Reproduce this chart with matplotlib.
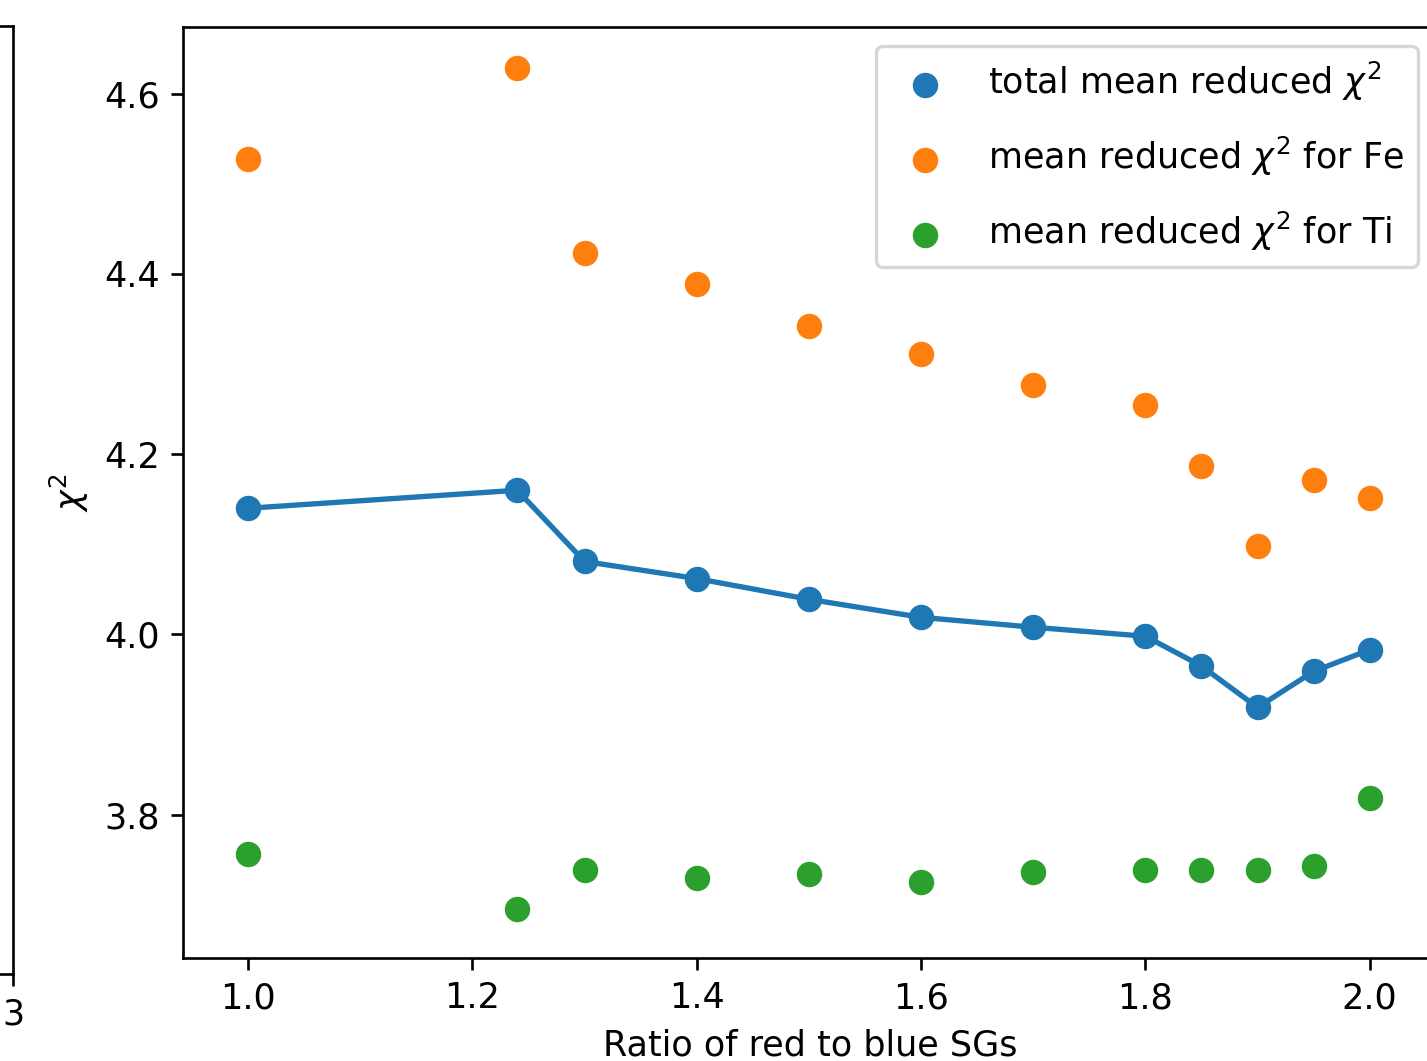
import matplotlib
matplotlib.use('Agg')
import matplotlib.pyplot as plt

# ratio of red to blue SGs
ratio = [1.0, 1.24, 1.3, 1.4, 1.5, 1.6, 1.7, 1.8, 1.85, 1.9, 1.95, 2.0]

# mean reduced chi^2 values
chi2_total = [4.140, 4.160, 4.081, 4.062, 4.039, 4.019, 4.008, 3.998, 3.965, 3.919, 3.959, 3.983]
chi2_fe = [4.527, 4.628, 4.423, 4.389, 4.342, 4.311, 4.277, 4.255, 4.187, 4.098, 4.171, 4.151]
chi2_ti = [3.756, 3.695, 3.739, 3.730, 3.734, 3.725, 3.736, 3.739, 3.739, 3.739, 3.743, 3.818]

plt.rcParams['font.size'] = 10.5

W, H = 1427, 1061
dpi = 240
fig = plt.figure(figsize=(W / dpi, H / dpi), dpi=dpi)

# edge of the neighbouring panel, cut off at the left
side = fig.add_axes([-0.5, 1 - 974 / H, 0.5 + 13 / W, (974 - 26) / H])
side.set_xlim(0, 3)
side.set_xticks([3])
side.set_yticks([])

ax = fig.add_axes([183 / W, 1 - 958 / H, 1254 / W, (958 - 27) / H])
ax.plot(ratio, chi2_total, color='C0', lw=1.6)
ax.scatter(ratio, chi2_total, s=44, color='C0', label=r'total mean reduced $\chi^2$')
ax.scatter(ratio, chi2_fe, s=44, color='C1', label=r'mean reduced $\chi^2$ for Fe')
ax.scatter(ratio, chi2_ti, s=44, color='C2', label=r'mean reduced $\chi^2$ for Ti')

ax.set_xlim(0.942, 2.06)
ax.set_ylim(3.641, 4.674)
ax.set_xticks([1.0, 1.2, 1.4, 1.6, 1.8, 2.0])
ax.set_yticks([3.8, 4.0, 4.2, 4.4, 4.6])
ax.set_xlabel('Ratio of red to blue SGs')
ax.set_ylabel(r'$\chi^2$')
ax.legend(loc='upper right', scatterpoints=1, labelspacing=0.9, borderaxespad=0.55)

fig.savefig('out.png', dpi=dpi)
